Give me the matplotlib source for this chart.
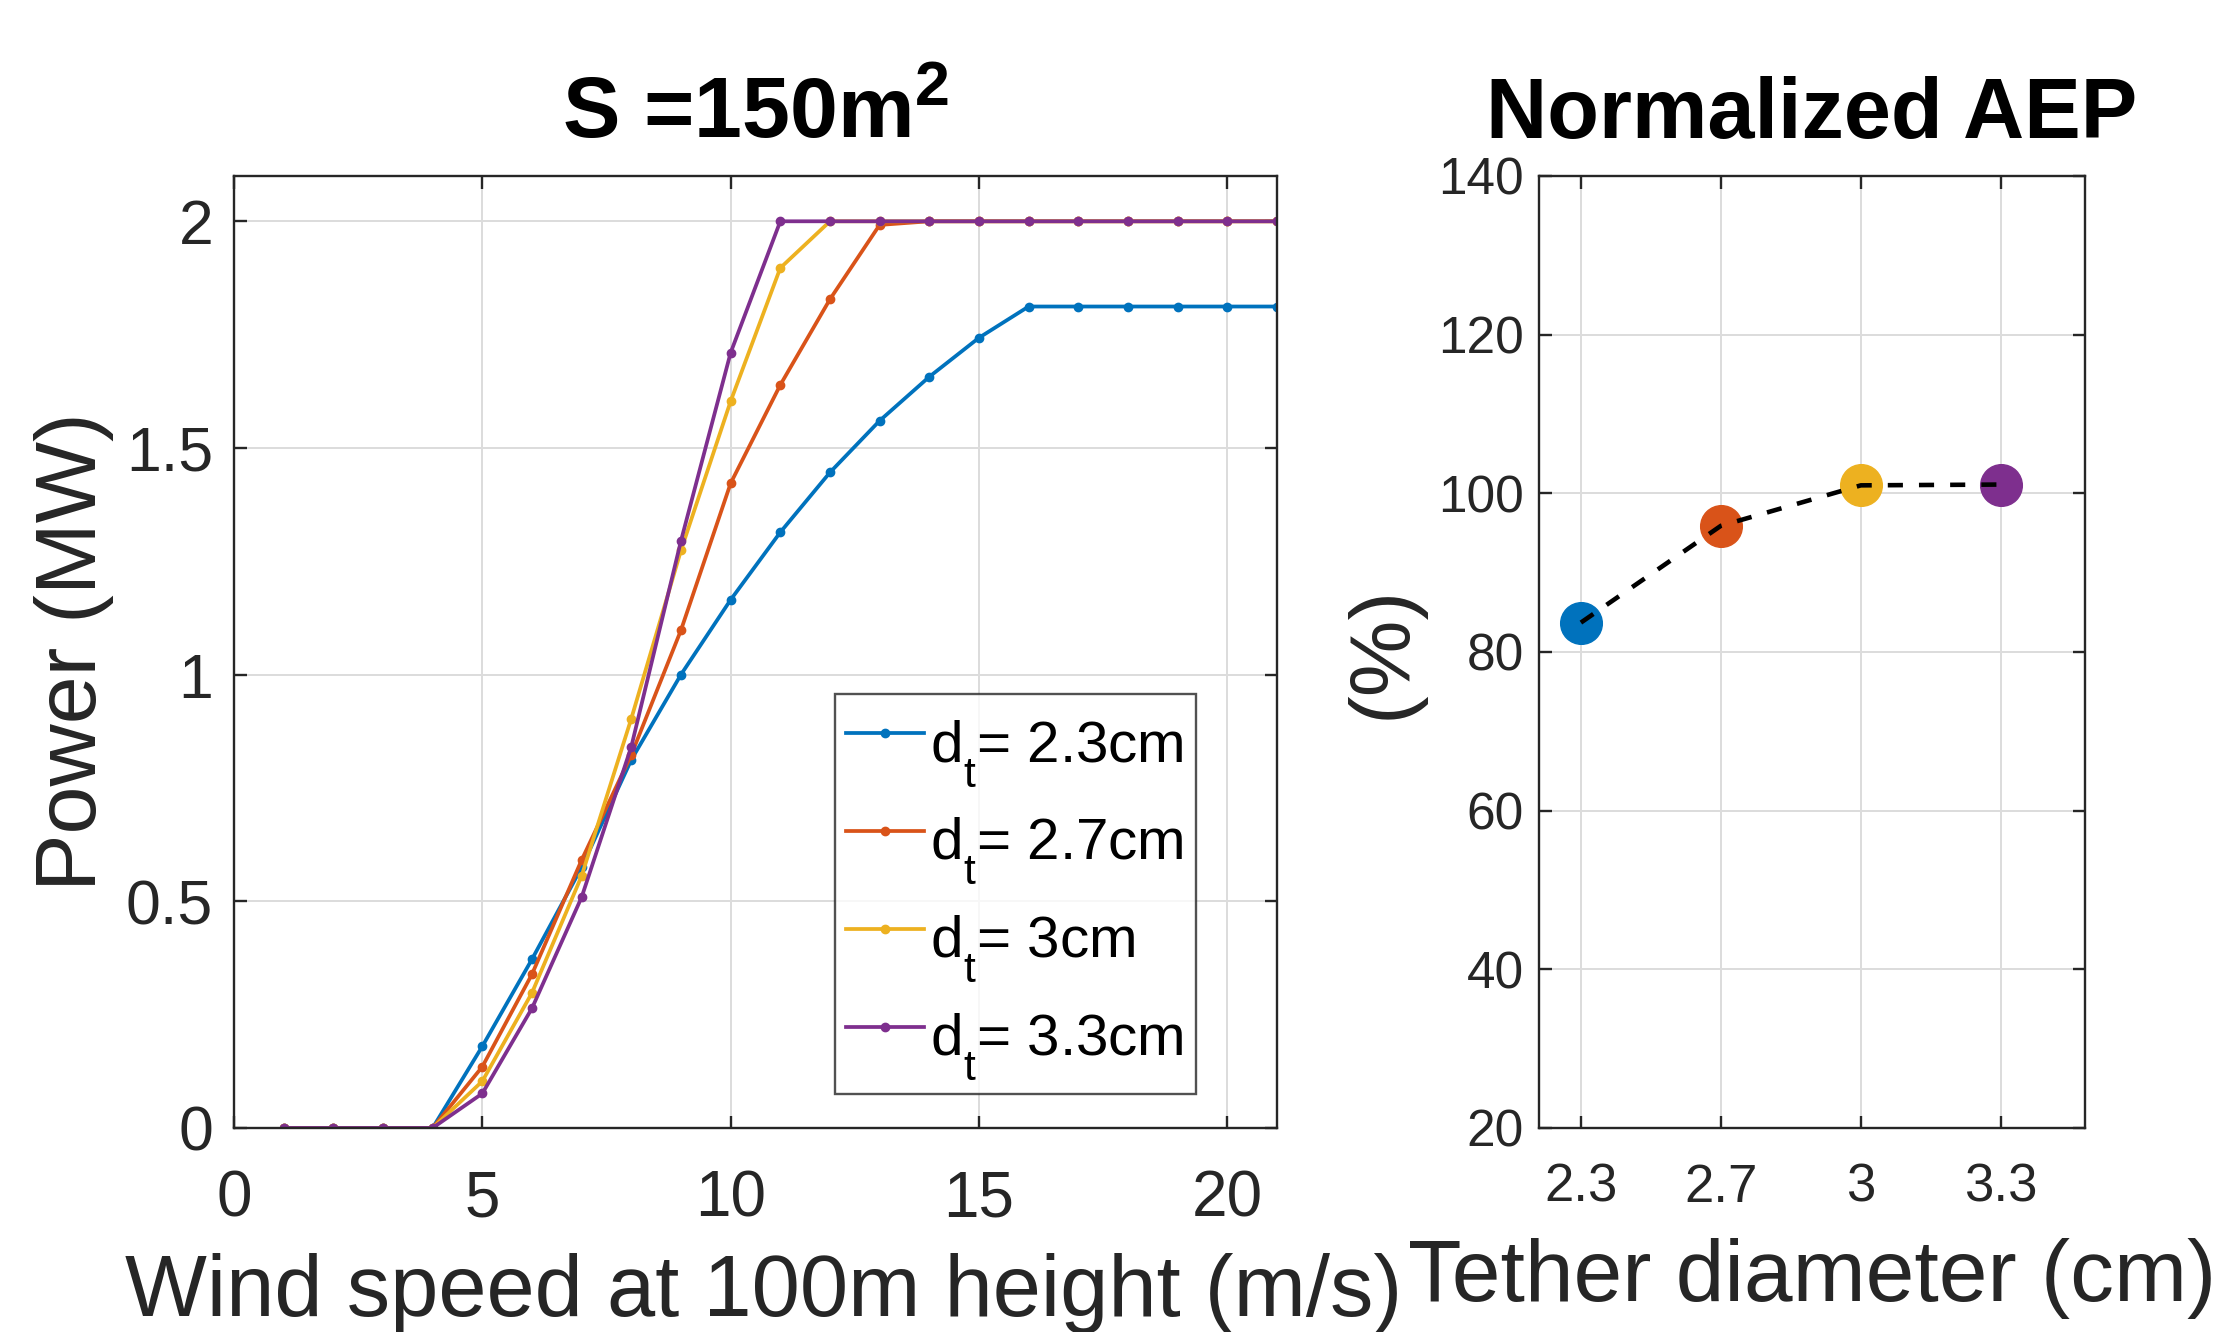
import matplotlib
matplotlib.use("Agg")
import matplotlib.pyplot as plt

try:
    import matplotlib._mathtext as _mt
    _mt.SHRINK_FACTOR = 0.73
    _mt.FontConstantsBase.sub1 = 0.85
except Exception:
    pass

plt.rcParams['font.family'] = ['Liberation Sans', 'DejaVu Sans']
plt.rcParams['mathtext.fontset'] = 'custom'
plt.rcParams['mathtext.rm'] = 'Liberation Sans'
plt.rcParams['mathtext.it'] = 'Liberation Sans'
plt.rcParams['mathtext.bf'] = 'Liberation Sans:bold'

wind = list(range(1, 22))
p_23 = [0, 0, 0, 0, 0.18, 0.372, 0.575, 0.812, 1.0, 1.165, 1.314, 1.446, 1.56, 1.657, 1.743, 1.812,
        1.812, 1.812, 1.812, 1.812, 1.812]
p_27 = [0, 0, 0, 0, 0.135, 0.339, 0.591, 0.823, 1.098, 1.422, 1.639, 1.828, 1.992, 2.0, 2.0, 2.0,
        2.0, 2.0, 2.0, 2.0, 2.0]
p_30 = [0, 0, 0, 0, 0.103, 0.298, 0.556, 0.903, 1.274, 1.603, 1.897, 2.0, 2.0, 2.0, 2.0, 2.0,
        2.0, 2.0, 2.0, 2.0, 2.0]
p_33 = [0, 0, 0, 0, 0.076, 0.264, 0.509, 0.841, 1.295, 1.71, 2.0, 2.0, 2.0, 2.0, 2.0, 2.0,
        2.0, 2.0, 2.0, 2.0, 2.0]
series = [p_23, p_27, p_30, p_33]
labels = [r'd$_\mathregular{t}$= 2.3cm', r'd$_\mathregular{t}$= 2.7cm',
          r'd$_\mathregular{t}$= 3cm', r'd$_\mathregular{t}$= 3.3cm']
colors = ['#0072BD', '#D95319', '#EDB120', '#7E2F8E']

diam_labels = ['2.3', '2.7', '3', '3.3']
aep = [83.7, 95.9, 101.0, 101.1]

fig = plt.figure(figsize=(22.2, 13.32), dpi=100)
ax1 = fig.add_axes([0.1054, 0.1532, 0.4698, 0.7147])
ax2 = fig.add_axes([0.6932, 0.1532, 0.2459, 0.7147])

axcol = '#262626'
for ax in (ax1, ax2):
    ax.grid(True, color='#dcdcdc', linewidth=1.4)
    ax.set_axisbelow(True)
    for s in ax.spines.values():
        s.set_color(axcol)
        s.set_linewidth(1.7)
    ax.tick_params(direction='in', top=True, right=True, length=9, width=1.7,
                   color=axcol, labelcolor=axcol)

for y, lab, c in zip(series, labels, colors):
    ax1.plot(wind, y, '-', marker='o', markersize=6, color=c, linewidth=2.7, label=lab)
ax1.set_xlim(0, 21)
ax1.set_ylim(0, 2.1)
ax1.set_xticks([0, 5, 10, 15, 20])
ax1.set_yticks([0, 0.5, 1, 1.5, 2])
ax1.set_yticklabels(['0', '0.5', '1', '1.5', '2'])
ax1.tick_params(axis='x', labelsize=46, pad=30)
ax1.tick_params(axis='y', labelsize=45, pad=15)
ax1.set_xlabel('Wind speed at 100m height (m/s)', fontsize=62.5, color=axcol)
ax1.xaxis.set_label_coords(0.508, -0.131)
ax1.set_ylabel('Power (MW)', fontsize=62, color=axcol)
ax1.yaxis.set_label_coords(-0.115, 0.5)
ax1.set_title(r'S =150m$^\mathbf{2}$', fontsize=62, fontweight='bold', y=1.040, pad=0)
leg = ax1.legend(loc='lower right', bbox_to_anchor=(0.922, 0.036), fontsize=42,
                 frameon=True, fancybox=False, edgecolor=axcol, handlelength=1.34,
                 handleheight=1.55, handletextpad=0.1, borderpad=0.2,
                 labelspacing=0.25, borderaxespad=0)
leg.get_frame().set_linewidth(1.7)

xpos = list(range(1, len(aep) + 1))
ax2.plot(xpos, aep, '--', color='black', linewidth=3.3, dashes=(3.3, 3.5), zorder=3)
for xp, v, c in zip(xpos, aep, colors):
    ax2.plot([xp], [v], 'o', color=c, markersize=30, zorder=2)
ax2.set_xlim(0.7, 4.6)
ax2.set_ylim(20, 140)
ax2.set_xticks(xpos)
ax2.set_xticklabels(diam_labels)
ax2.set_yticks([20, 40, 60, 80, 100, 120, 140])
ax2.tick_params(axis='y', labelsize=37, pad=11)
ax2.tick_params(axis='x', labelsize=38, pad=25)
ax2.set_xlabel('Tether diameter (cm)', fontsize=63, color=axcol)
ax2.xaxis.set_label_coords(0.5, -0.1155)
ax2.set_ylabel('(%)', fontsize=62, color=axcol)
ax2.yaxis.set_label_coords(-0.212, 0.5)
ax2.set_title('Normalized AEP', fontsize=61, fontweight='bold', y=1.040, pad=0)

fig.savefig('out.png', dpi=100)
